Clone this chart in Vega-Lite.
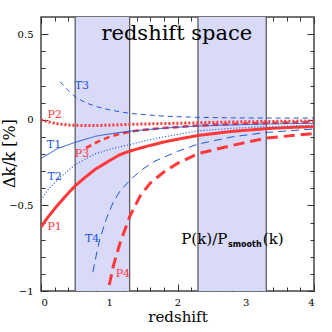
{
  "$schema": "https://vega.github.io/schema/vega-lite/v6.json",
  "autosize": {"type": "none"},
  "width": 273,
  "height": 274,
  "padding": {"left": 41, "top": 17, "right": 18, "bottom": 41},
  "background": "white",
  "config": {
    "view": {"stroke": "#444", "strokeWidth": 1.5},
    "axis": {"grid": false, "domain": false, "tickColor": "#333", "labelFont": "DejaVu Serif", "labelFontSize": 10, "labelColor": "#000", "titleColor": "#000"}
  },
  "datasets": {
    "curves": [
      {"s": "P1", "z": 0, "v": -0.626}, {"s": "P1", "z": 0.1, "v": -0.57}, {"s": "P1", "z": 0.2, "v": -0.52}, {"s": "P1", "z": 0.35, "v": -0.45}, {"s": "P1", "z": 0.5, "v": -0.386}, {"s": "P1", "z": 0.65, "v": -0.335}, {"s": "P1", "z": 0.8, "v": -0.288}, {"s": "P1", "z": 1.0, "v": -0.24}, {"s": "P1", "z": 1.15, "v": -0.205}, {"s": "P1", "z": 1.3, "v": -0.183}, {"s": "P1", "z": 1.55, "v": -0.155}, {"s": "P1", "z": 1.8, "v": -0.13}, {"s": "P1", "z": 2.05, "v": -0.11}, {"s": "P1", "z": 2.3, "v": -0.092}, {"s": "P1", "z": 2.8, "v": -0.068}, {"s": "P1", "z": 3.3, "v": -0.052}, {"s": "P1", "z": 3.65, "v": -0.045}, {"s": "P1", "z": 4, "v": -0.04},
      {"s": "P2", "z": 0, "v": 0}, {"s": "P2", "z": 0.1, "v": -0.012}, {"s": "P2", "z": 0.25, "v": -0.024}, {"s": "P2", "z": 0.4, "v": -0.031}, {"s": "P2", "z": 0.6, "v": -0.034}, {"s": "P2", "z": 0.8, "v": -0.034}, {"s": "P2", "z": 1.05, "v": -0.031}, {"s": "P2", "z": 1.3, "v": -0.027}, {"s": "P2", "z": 1.8, "v": -0.022}, {"s": "P2", "z": 2.3, "v": -0.018}, {"s": "P2", "z": 2.8, "v": -0.013}, {"s": "P2", "z": 3.3, "v": -0.01}, {"s": "P2", "z": 4, "v": -0.007},
      {"s": "P3", "z": 0.66, "v": -0.165}, {"s": "P3", "z": 0.75, "v": -0.145}, {"s": "P3", "z": 0.85, "v": -0.125}, {"s": "P3", "z": 1.0, "v": -0.1}, {"s": "P3", "z": 1.15, "v": -0.083}, {"s": "P3", "z": 1.3, "v": -0.07}, {"s": "P3", "z": 1.55, "v": -0.057}, {"s": "P3", "z": 1.8, "v": -0.048}, {"s": "P3", "z": 2.3, "v": -0.034}, {"s": "P3", "z": 2.8, "v": -0.025}, {"s": "P3", "z": 3.3, "v": -0.019}, {"s": "P3", "z": 4, "v": -0.014},
      {"s": "P4", "z": 1.0, "v": -0.965}, {"s": "P4", "z": 1.06, "v": -0.854}, {"s": "P4", "z": 1.16, "v": -0.717}, {"s": "P4", "z": 1.25, "v": -0.62}, {"s": "P4", "z": 1.3, "v": -0.565}, {"s": "P4", "z": 1.45, "v": -0.447}, {"s": "P4", "z": 1.6, "v": -0.37}, {"s": "P4", "z": 1.8, "v": -0.305}, {"s": "P4", "z": 2.0, "v": -0.255}, {"s": "P4", "z": 2.3, "v": -0.198}, {"s": "P4", "z": 2.8, "v": -0.15}, {"s": "P4", "z": 3.3, "v": -0.107}, {"s": "P4", "z": 4, "v": -0.08},
      {"s": "T1", "z": 0, "v": -0.226}, {"s": "T1", "z": 0.25, "v": -0.167}, {"s": "T1", "z": 0.5, "v": -0.132}, {"s": "T1", "z": 0.8, "v": -0.096}, {"s": "T1", "z": 1.05, "v": -0.08}, {"s": "T1", "z": 1.3, "v": -0.067}, {"s": "T1", "z": 1.8, "v": -0.049}, {"s": "T1", "z": 2.3, "v": -0.036}, {"s": "T1", "z": 2.8, "v": -0.03}, {"s": "T1", "z": 3.3, "v": -0.025}, {"s": "T1", "z": 4, "v": -0.021},
      {"s": "T2", "z": 0, "v": -0.468}, {"s": "T2", "z": 0.1, "v": -0.41}, {"s": "T2", "z": 0.25, "v": -0.347}, {"s": "T2", "z": 0.5, "v": -0.262}, {"s": "T2", "z": 0.8, "v": -0.198}, {"s": "T2", "z": 1.05, "v": -0.168}, {"s": "T2", "z": 1.3, "v": -0.145}, {"s": "T2", "z": 1.55, "v": -0.12}, {"s": "T2", "z": 1.8, "v": -0.1}, {"s": "T2", "z": 2.3, "v": -0.065}, {"s": "T2", "z": 2.8, "v": -0.05}, {"s": "T2", "z": 3.3, "v": -0.04}, {"s": "T2", "z": 4, "v": -0.031},
      {"s": "T3", "z": 0.28, "v": 0.222}, {"s": "T3", "z": 0.4, "v": 0.17}, {"s": "T3", "z": 0.5, "v": 0.134}, {"s": "T3", "z": 0.65, "v": 0.1}, {"s": "T3", "z": 0.8, "v": 0.078}, {"s": "T3", "z": 1.0, "v": 0.058}, {"s": "T3", "z": 1.3, "v": 0.037}, {"s": "T3", "z": 1.8, "v": 0.021}, {"s": "T3", "z": 2.3, "v": 0.014}, {"s": "T3", "z": 2.8, "v": 0.011}, {"s": "T3", "z": 3.3, "v": 0.01}, {"s": "T3", "z": 4, "v": 0.01},
      {"s": "T4", "z": 0.76, "v": -0.89}, {"s": "T4", "z": 0.81, "v": -0.79}, {"s": "T4", "z": 0.86, "v": -0.7}, {"s": "T4", "z": 0.96, "v": -0.575}, {"s": "T4", "z": 1.06, "v": -0.48}, {"s": "T4", "z": 1.16, "v": -0.415}, {"s": "T4", "z": 1.3, "v": -0.355}, {"s": "T4", "z": 1.45, "v": -0.3}, {"s": "T4", "z": 1.65, "v": -0.245}, {"s": "T4", "z": 2.0, "v": -0.185}, {"s": "T4", "z": 2.3, "v": -0.142}, {"s": "T4", "z": 2.8, "v": -0.1}, {"s": "T4", "z": 3.3, "v": -0.074}, {"s": "T4", "z": 4, "v": -0.054}
    ],
    "labels": [
      {"s": "P1", "z": 0.2, "v": -0.627}, {"s": "P2", "z": 0.2, "v": 0.027}, {"s": "P3", "z": 0.6, "v": -0.2}, {"s": "P4", "z": 1.2, "v": -0.9},
      {"s": "T1", "z": 0.19, "v": -0.148}, {"s": "T2", "z": 0.2, "v": -0.335}, {"s": "T3", "z": 0.6, "v": 0.197}, {"s": "T4", "z": 0.75, "v": -0.698}
    ],
    "bands": [{"z0": 0.5, "z1": 1.3}, {"z0": 2.3, "z1": 3.3}],
    "edges": [{"z": 0.5}, {"z": 1.3}, {"z": 2.3}, {"z": 3.3}]
  },
  "resolve": {"axis": {"x": "independent", "y": "independent"}},
  "layer": [
    {
      "data": {"name": "bands"},
      "mark": {"type": "rect", "color": "#d9d9f8"},
      "encoding": {
        "x": {"field": "z0", "type": "quantitative", "scale": {"domain": [0, 4], "nice": false, "zero": false}, "axis": null},
        "x2": {"field": "z1"}
      }
    },
    {
      "data": {"name": "edges"},
      "mark": {"type": "rule", "color": "#333", "strokeWidth": 1},
      "encoding": {"x": {"field": "z", "type": "quantitative", "axis": null}}
    },
    {
      "data": {"name": "curves"},
      "mark": {"type": "line", "clip": true},
      "encoding": {
        "x": {"field": "z", "type": "quantitative", "scale": {"domain": [0, 4], "nice": false, "zero": false},
              "axis": {"orient": "bottom", "values": [0, 1, 2, 3, 4], "format": "d", "tickSize": -7, "labelPadding": 13, "title": "redshift", "titleFont": "DejaVu Serif", "titleFontSize": 15, "titleFontWeight": "normal", "titlePadding": 2}},
        "y": {"field": "v", "type": "quantitative", "scale": {"domain": [-1, 0.6], "nice": false, "zero": false},
              "axis": {"orient": "left", "values": [-1, -0.5, 0, 0.5], "format": "~g", "tickSize": -7, "labelPadding": 15, "title": "Δk/k [%]", "titleFont": "DejaVu Serif", "titleFontSize": 16, "titleFontWeight": "normal", "titleAngle": 270, "titleX": -32, "titleY": 136, "titleAlign": "center", "titleBaseline": "middle"}},
        "color": {"field": "s", "type": "nominal", "legend": null, "scale": {"domain": ["P1", "P2", "P3", "P4", "T1", "T2", "T3", "T4"], "range": ["#ff3838", "#ff3838", "#ff3838", "#ff3838", "#2058d8", "#2058d8", "#2058d8", "#2058d8"]}},
        "strokeDash": {"field": "s", "type": "nominal", "legend": null, "scale": {"domain": ["P1", "P2", "P3", "P4", "T1", "T2", "T3", "T4"], "range": [[1, 0], [2, 2], [6, 4], [11, 6], [1, 0], [1, 2], [5, 4], [8, 5]]}},
        "strokeWidth": {"field": "s", "type": "nominal", "legend": null, "scale": {"type": "ordinal", "domain": ["P1", "P2", "P3", "P4", "T1", "T2", "T3", "T4"], "range": [3, 3, 2.6, 3, 1, 1.2, 1, 1]}},
        "order": {"field": "z", "type": "quantitative"}
      }
    },
    {
      "data": {"name": "labels"},
      "mark": {"type": "text", "font": "DejaVu Serif", "fontSize": 11, "align": "center", "baseline": "middle"},
      "encoding": {
        "x": {"field": "z", "type": "quantitative", "axis": {"orient": "top", "values": [0, 1, 2, 3, 4], "tickSize": -7, "labels": false, "title": null}},
        "y": {"field": "v", "type": "quantitative", "axis": {"orient": "right", "values": [-1, -0.5, 0, 0.5], "tickSize": -7, "labels": false, "title": null}},
        "text": {"field": "s"},
        "color": {"field": "s", "type": "nominal", "legend": null}
      }
    },
    {
      "data": {"values": [{"t": "redshift space", "z": 1.99, "v": 0.5}]},
      "mark": {"type": "text", "font": "DejaVu Serif", "fontSize": 21, "align": "center", "baseline": "middle", "color": "#000"},
      "encoding": {
        "x": {"field": "z", "type": "quantitative", "axis": {"orient": "bottom", "values": [0.2, 0.4, 0.6, 0.8, 1.2, 1.4, 1.6, 1.8, 2.2, 2.4, 2.6, 2.8, 3.2, 3.4, 3.6, 3.8], "tickSize": -4, "labels": false, "title": null}},
        "y": {"field": "v", "type": "quantitative", "axis": {"orient": "left", "values": [-0.9, -0.8, -0.7, -0.6, -0.4, -0.3, -0.2, -0.1, 0.1, 0.2, 0.3, 0.4], "tickSize": -4, "labels": false, "title": null}},
        "text": {"field": "t"}
      }
    },
    {
      "data": {"values": [{"t": "P(k)/P", "z": 2.73, "v": -0.694}]},
      "mark": {"type": "text", "font": "DejaVu Serif", "fontSize": 15, "align": "right", "baseline": "middle", "color": "#000"},
      "encoding": {
        "x": {"field": "z", "type": "quantitative", "axis": {"orient": "top", "values": [0.2, 0.4, 0.6, 0.8, 1.2, 1.4, 1.6, 1.8, 2.2, 2.4, 2.6, 2.8, 3.2, 3.4, 3.6, 3.8], "tickSize": -4, "labels": false, "title": null}},
        "y": {"field": "v", "type": "quantitative", "axis": {"orient": "right", "values": [-0.9, -0.8, -0.7, -0.6, -0.4, -0.3, -0.2, -0.1, 0.1, 0.2, 0.3, 0.4], "tickSize": -4, "labels": false, "title": null}},
        "text": {"field": "t"}
      }
    },
    {
      "data": {"values": [{"t": "smooth", "z": 2.74, "v": -0.73}]},
      "mark": {"type": "text", "font": "DejaVu Sans", "fontWeight": "bold", "fontSize": 8, "align": "left", "baseline": "middle", "color": "#000"},
      "encoding": {
        "x": {"field": "z", "type": "quantitative", "axis": null},
        "y": {"field": "v", "type": "quantitative", "axis": null},
        "text": {"field": "t"}
      }
    },
    {
      "data": {"values": [{"t": "(k)", "z": 3.25, "v": -0.694}]},
      "mark": {"type": "text", "font": "DejaVu Serif", "fontSize": 15, "align": "left", "baseline": "middle", "color": "#000"},
      "encoding": {
        "x": {"field": "z", "type": "quantitative", "axis": null},
        "y": {"field": "v", "type": "quantitative", "axis": null},
        "text": {"field": "t"}
      }
    }
  ]
}
